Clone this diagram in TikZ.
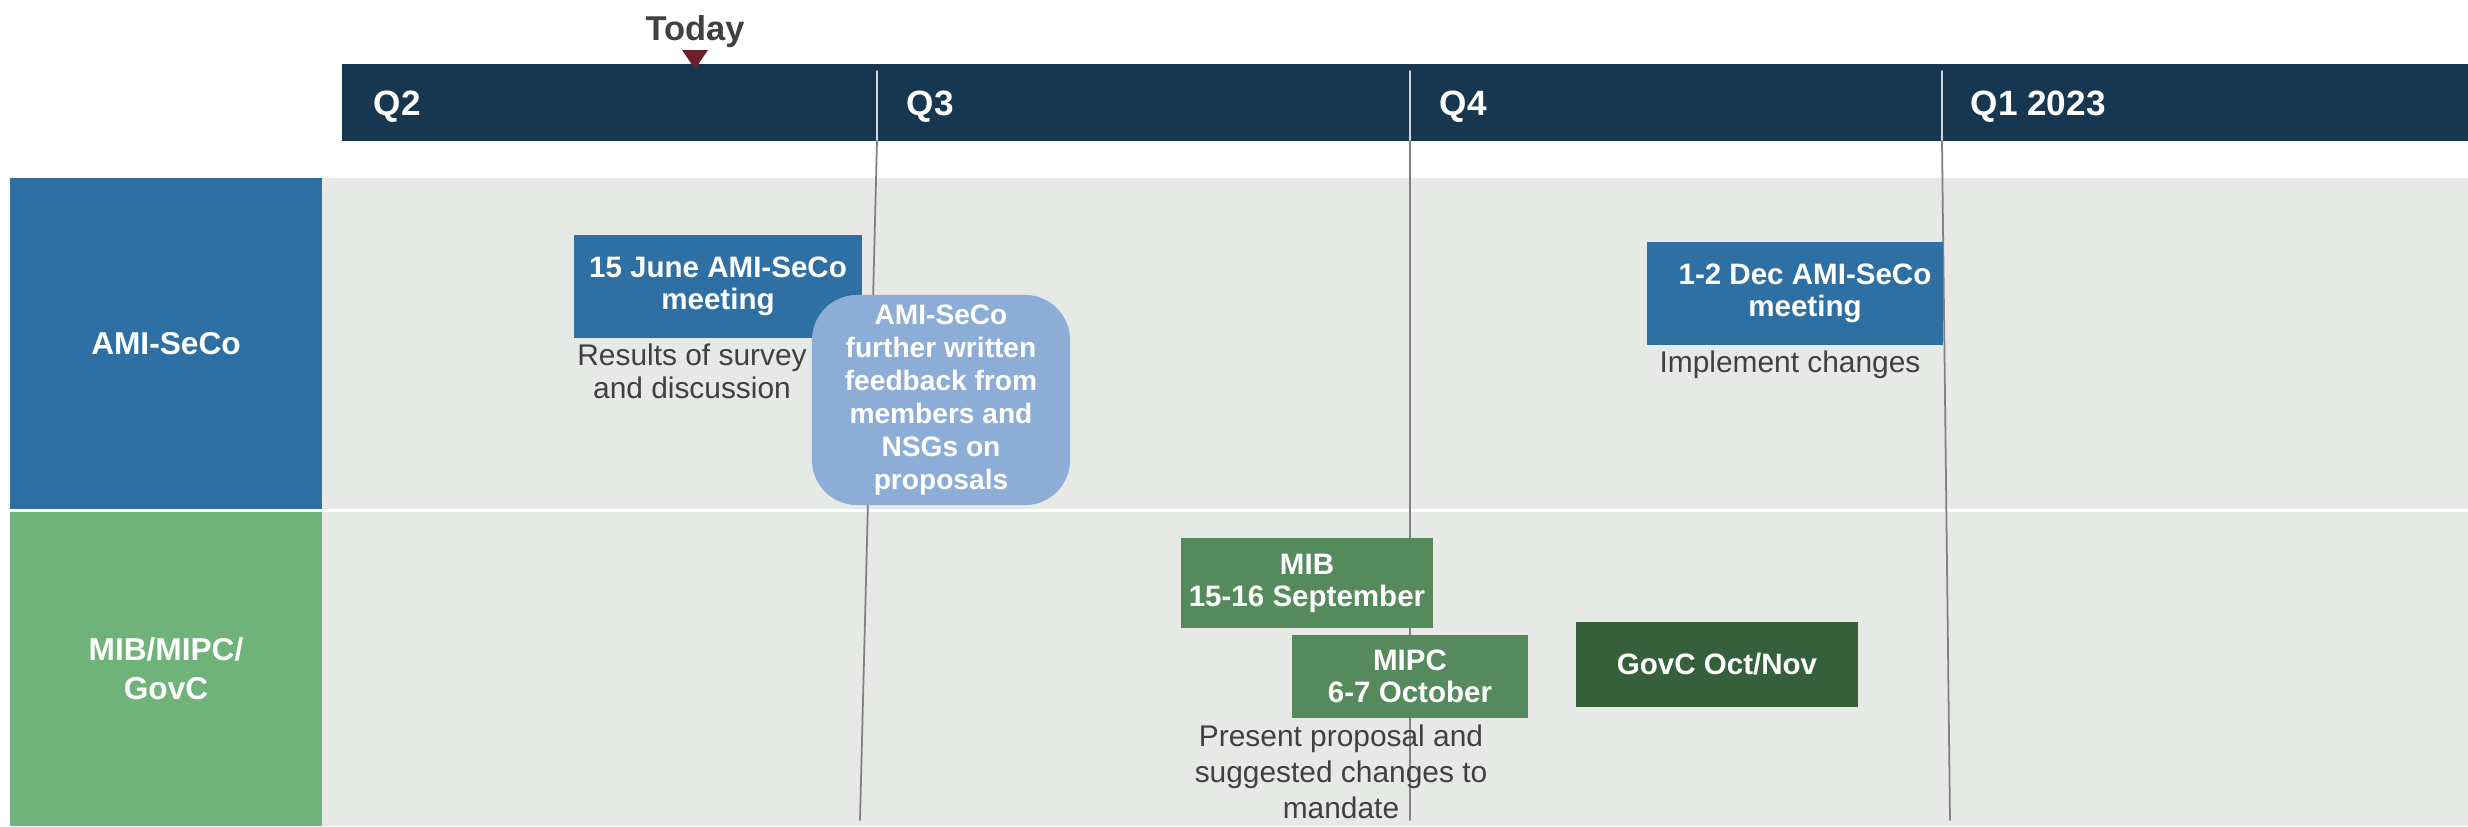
\documentclass[tikz,border=0pt]{standalone}
\usepackage{fontspec}
\setmainfont{Liberation Sans}
\definecolor{navy}{RGB}{23,55,81}
\definecolor{todaymark}{RGB}{110,32,42}
\definecolor{band}{RGB}{231,233,230}
\definecolor{amiblue}{RGB}{46,112,163}
\definecolor{lightblue}{RGB}{140,173,214}
\definecolor{labelgreen}{RGB}{112,179,122}
\definecolor{midgreen}{RGB}{84,138,92}
\definecolor{darkgreen}{RGB}{54,95,59}
\definecolor{notegray}{RGB}{64,64,64}
\begin{document}
\begin{tikzpicture}[x=0.01cm,y=-0.01cm,line cap=round,line join=round,
	box/.style={fill=amiblue,text=white,font=\fontsize{8.4}{9.1}\selectfont\bfseries,align=center,inner sep=0pt},
	note/.style={text=notegray,font=\fontsize{8.5}{9.4}\selectfont,align=center},
	qlabel/.style={text=white,font=\fontsize{10}{12}\selectfont\bfseries,anchor=base west,inner sep=0pt},
	rowlabel/.style={text=white,font=\fontsize{9}{11}\selectfont\bfseries,align=center,inner sep=0pt,minimum width=3.12cm}]
	\useasboundingbox (0,0) rectangle (2468,826);
	% header
	\fill[navy] (342,64) rectangle (2468,141);
	\node[text=notegray,font=\fontsize{9.8}{12}\selectfont\bfseries,anchor=base] (today) at (695,40) {Today};
	\fill[todaymark] (682,50) -- (708,50) -- (695,69) -- cycle;
	\node[qlabel] (q2) at (373,115) {Q2};
	\node[qlabel] (q3) at (906,115) {Q3};
	\node[qlabel] (q4) at (1439,115) {Q4};
	\node[qlabel] (q1) at (1970,115) {Q1 2023};
	% rows
	\fill[band] (322,178) rectangle (2468,509);
	\fill[band] (322,512) rectangle (2468,826);
	\node[rowlabel,fill=amiblue,minimum height=3.31cm] (ami) at (166,343.5) {AMI-SeCo};
	\node[rowlabel,fill=labelgreen,minimum height=3.14cm] (mib) at (166,669) {MIB/MIPC/\\GovC};
	% quarter lines
	\foreach \n/\a/\b in {q3/877/860,q4/1410/1410,q1/1942/1950}{
		\coordinate (\n top) at (\a,71);
		\coordinate (\n bar) at (\a,141);
		\coordinate (\n end) at (\b,820);
		\draw[line width=0.5pt,color=white!80!navy] (\n top) -- (\n bar);
		\draw[line width=0.5pt,color=gray] (\n bar) -- (\n end);
	}
	% events
	\node[box,minimum width=2.88cm,minimum height=1.03cm] (june) at (718,286.5) {15 June AMI-SeCo\\meeting};
	\node[note] (survey) at (692,371) {Results of survey\\and discussion};
	\node[box,fill=lightblue,rounded corners=0.45cm,minimum width=2.58cm,minimum height=2.1cm,font=\fontsize{8}{9.4}\selectfont\bfseries] (feedback) at (941,400) {AMI-SeCo\\further written\\feedback from\\members and\\NSGs on\\proposals};
	\node[box,minimum width=2.96cm,minimum height=1.03cm] (dec) at (1795,293.5) {\hspace{0.2cm}1-2 Dec AMI-SeCo\\\hspace{0.2cm}meeting};
	\node[note] (implement) at (1790,365) {Implement changes};
	\node[box,fill=midgreen,minimum width=2.52cm,minimum height=0.9cm] (mibbox) at (1307,583) {MIB\\15-16 September};
	\node[box,fill=midgreen,minimum width=2.36cm,minimum height=0.83cm] (mipc) at (1410,676.5) {MIPC\\6-7 October};
	\node[note,font=\fontsize{8.5}{10.2}\selectfont] (present) at (1341,772) {Present proposal and\\suggested changes to\\mandate};
	\node[box,fill=darkgreen,minimum width=2.82cm,minimum height=0.85cm] (govc) at (1717,664.5) {GovC Oct/Nov};
\end{tikzpicture}
\end{document}
